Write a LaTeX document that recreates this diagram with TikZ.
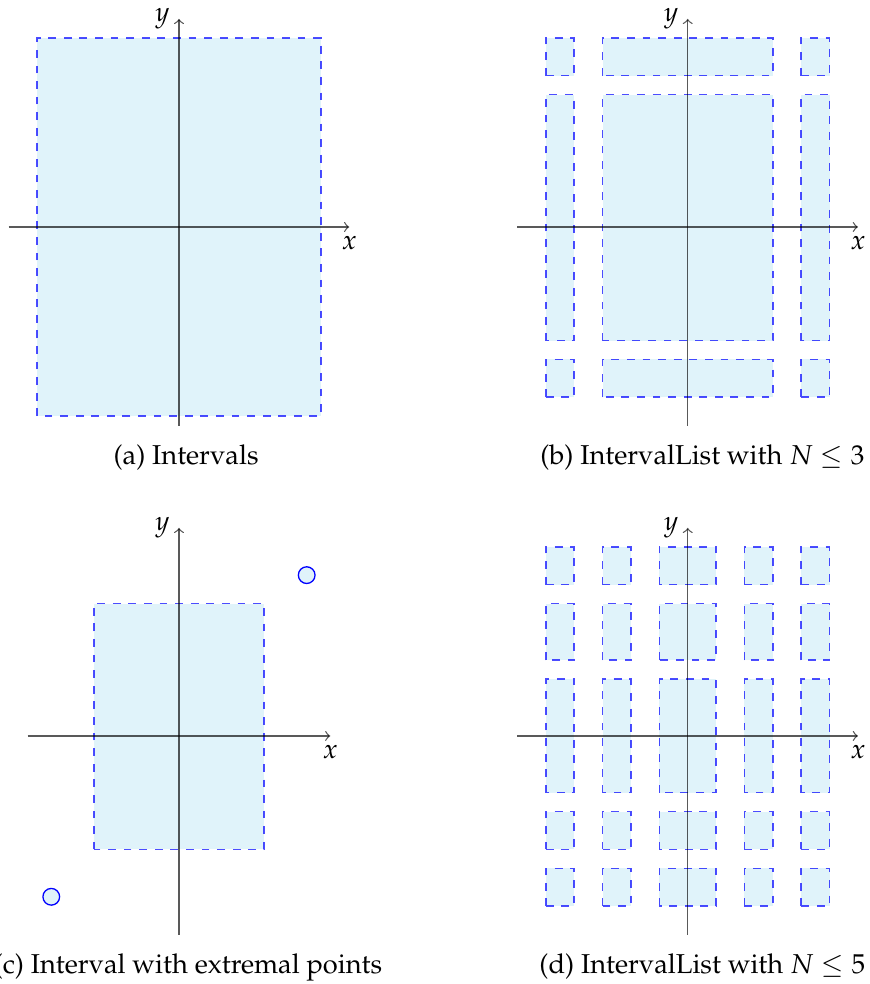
\documentclass[tikz,border=0pt]{standalone}
\usepackage{mathpazo}
\definecolor{boxfill}{RGB}{224,243,250}
\begin{document}
\begin{tikzpicture}[x=0.64cm,y=0.64cm,
  font=\fontencoding{OT1}\fontfamily{ppl}\fontsize{10.5}{13}\selectfont,
  axis/.style={->, draw=black, draw opacity=0.65, line width=0.5pt},
  ivbox/.style={fill=boxfill, draw=blue, draw opacity=0.7, dashed, line width=0.6pt},
  extpt/.style={circle, draw=blue, fill=boxfill, line width=0.5pt, minimum size=0.226cm, inner sep=0pt},
  subcap/.style={anchor=base}]
\useasboundingbox (-3.784,4.799) rectangle (14.588,-16.004);

% (a)
\begin{scope}
  \draw[ivbox] (-3,-4) rectangle (3,4);
  \draw[axis] (-3.6,0) -- (3.6,0) node[below] (xa) {$x$};
  \draw[axis] (0,-4.2) -- (0,4.4) node[left] (ya) {$y$};
  \node[subcap] (capa) at (0.15,-5.03) {(a) Intervals};
\end{scope}

% (b)
\begin{scope}[shift={(10.755,0)}]
  \foreach \xa/\xb in {-3/-2.4,-1.8/1.8,2.4/3}
    \foreach \ya/\yb in {3.2/4,-2.4/2.8,-3.6/-2.8}
      \draw[ivbox] (\xa,\ya) rectangle (\xb,\yb);
  \draw[axis] (-3.6,0) -- (3.6,0) node[below] (xb) {$x$};
  \draw[axis] (0,-4.2) -- (0,4.4) node[left] (yb) {$y$};
  \node[subcap] (capb) at (0.31,-5.03) {(b) IntervalList with $N \leq 3$};
\end{scope}

% (c)
\begin{scope}[shift={(0,-10.76)}]
  \draw[ivbox] (-1.8,-2.4) rectangle (1.8,2.8);
  \draw[axis] (-3.2,0) -- (3.2,0) node[below] (xc) {$x$};
  \draw[axis] (0,-4.2) -- (0,4.4) node[left] (yc) {$y$};
  \node[extpt] (p1) at (2.7,3.4) {};
  \node[extpt] (p2) at (-2.7,-3.4) {};
  \node[subcap] (capc) at (0.19,-5.03) {(c) Interval with extremal points};
\end{scope}

% (d)
\begin{scope}[shift={(10.755,-10.76)}]
  \foreach \xa/\xb in {-3/-2.4,-1.8/-1.2,-0.6/0.6,1.2/1.8,2.4/3}
    \foreach \ya/\yb in {3.2/4,1.6/2.8,-1.2/1.2,-2.4/-1.6,-3.6/-2.8}
      \draw[ivbox] (\xa,\ya) rectangle (\xb,\yb);
  \draw[axis] (-3.6,0) -- (3.6,0) node[below] (xd) {$x$};
  \draw[axis] (0,-4.2) -- (0,4.4) node[left] (yd) {$y$};
  \node[subcap] (capd) at (0.31,-5.03) {(d) IntervalList with $N \leq 5$};
\end{scope}
\end{tikzpicture}
\end{document}
